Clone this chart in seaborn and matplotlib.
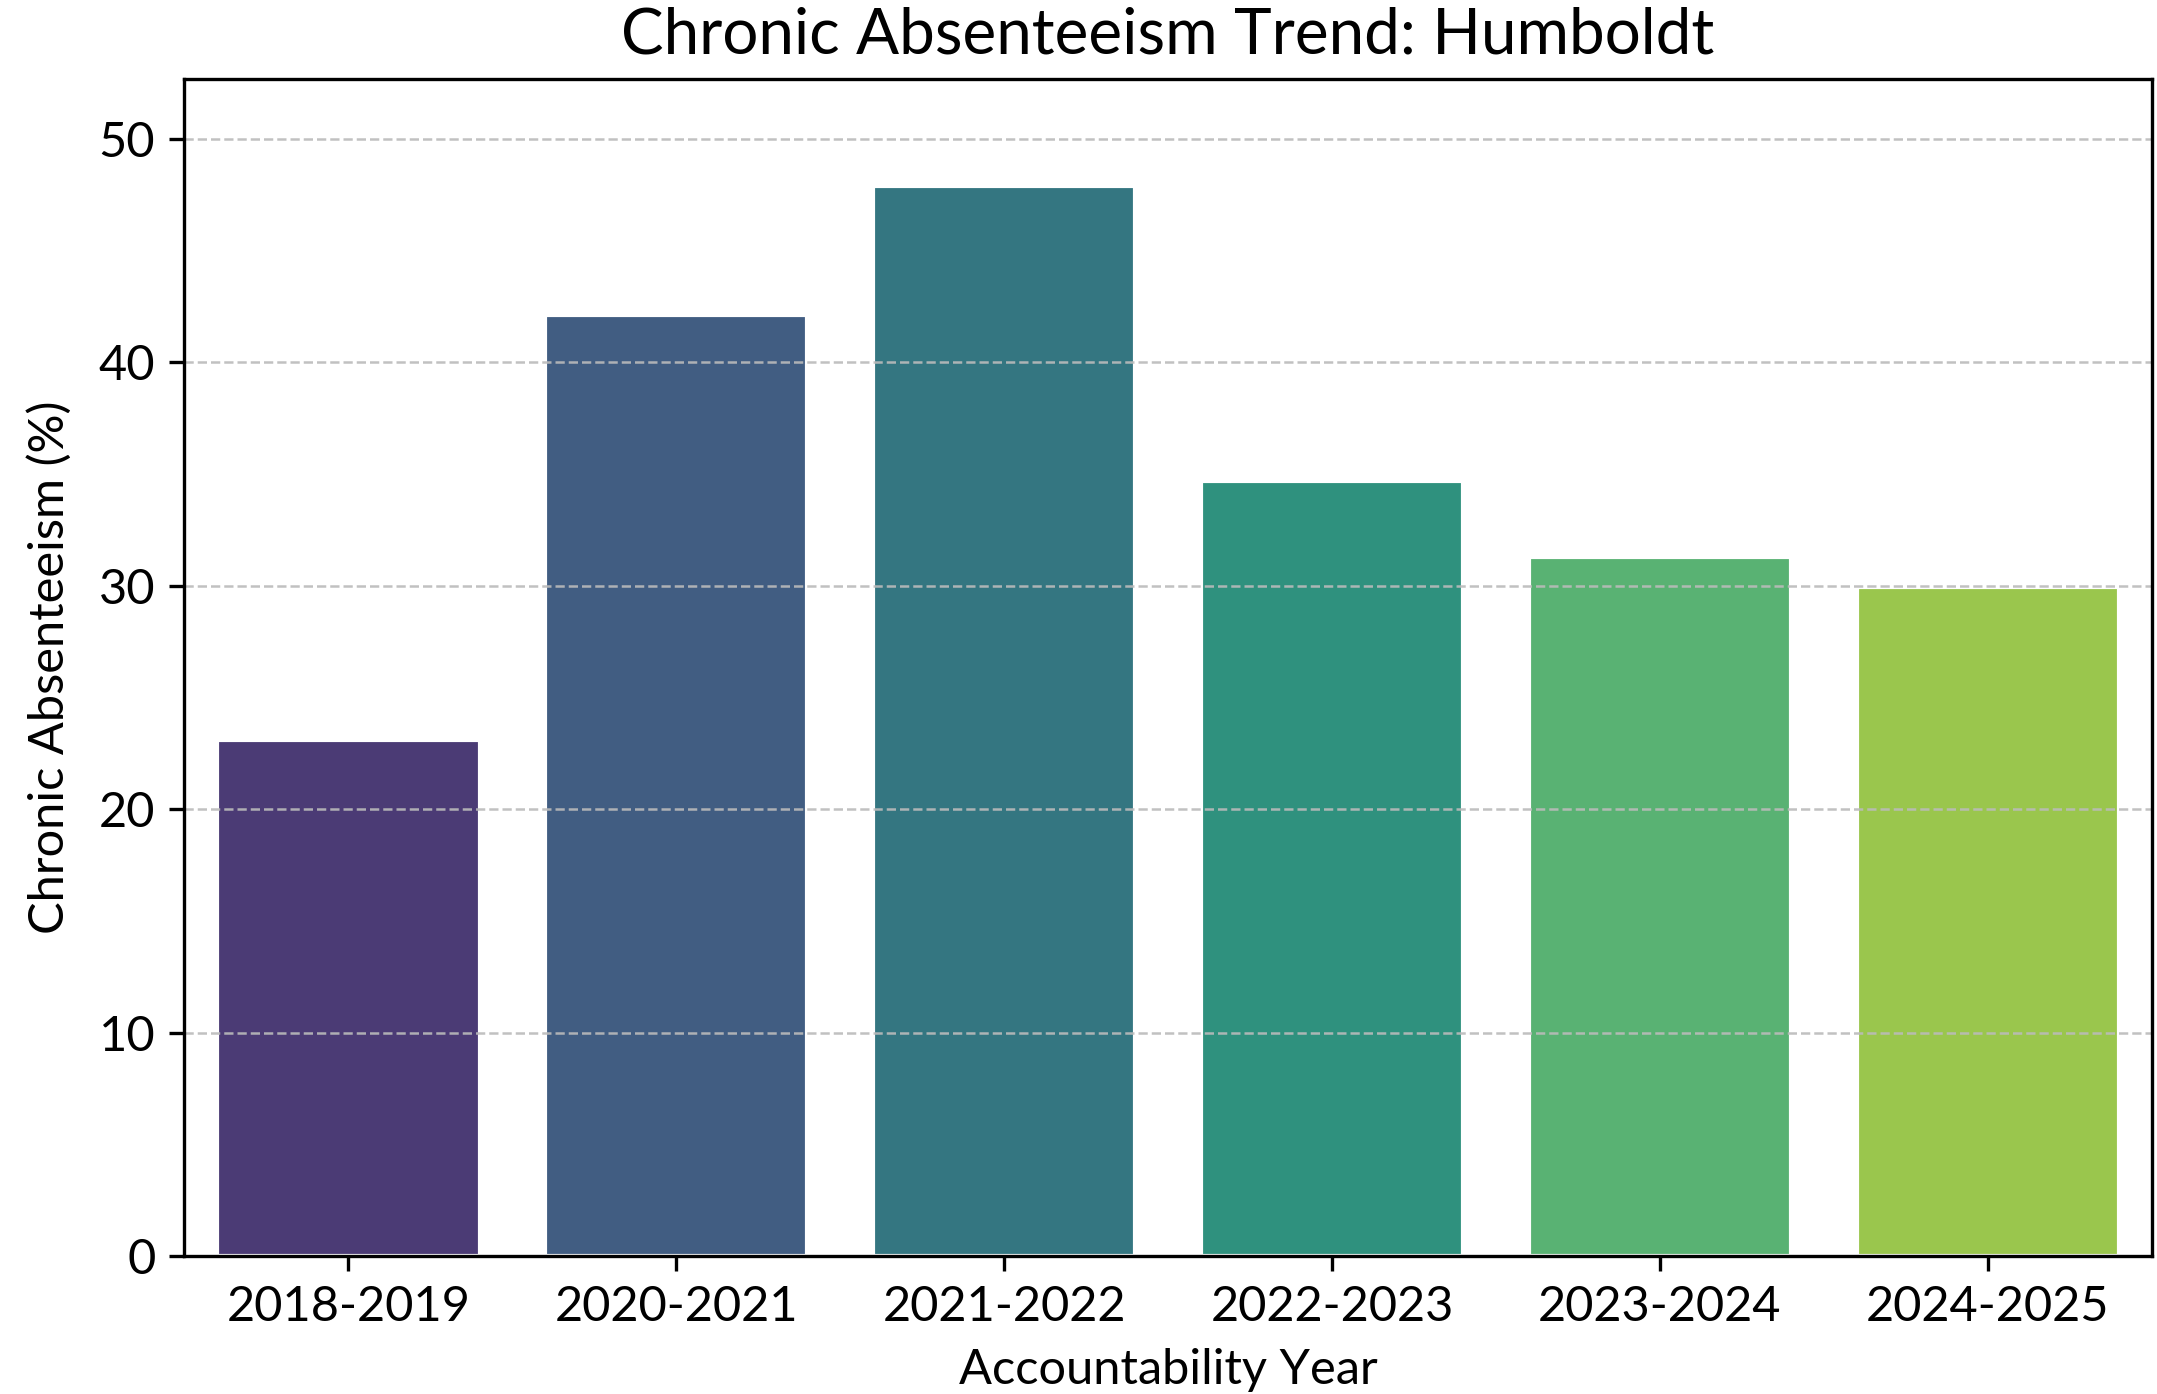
import matplotlib
matplotlib.use("Agg")
import matplotlib.pyplot as plt
import pandas as pd
import seaborn as sns

sns.set_style("ticks")
plt.rcParams["font.family"] = ["Lato", "DejaVu Sans"]

# data
years = ["2018-2019", "2020-2021", "2021-2022", "2022-2023", "2023-2024", "2024-2025"]
absenteeism = [23.1, 42.1, 47.9, 34.7, 31.3, 29.95]

df = pd.DataFrame({"Accountability Year": years, "Chronic Absenteeism (%)": absenteeism})

fig = plt.figure(figsize=(2157 / 300, 1394 / 300), dpi=300)
ax = fig.add_axes([0.0855, 0.099, 0.912, 0.8445])

sns.barplot(data=df, x="Accountability Year", y="Chronic Absenteeism (%)",
            hue="Accountability Year", palette="viridis", legend=False, ax=ax)

ax.set_ylim(0, max(absenteeism) * 1.1)
ax.set_axisbelow(False)
ax.yaxis.grid(True, linestyle="--", color="#bbbbbb", linewidth=0.6, alpha=0.9)
for sp in ax.spines.values():
    sp.set_color("black")
    sp.set_zorder(3)
ax.tick_params(labelsize=11.7, colors="black")
ax.set_title("Chronic Absenteeism Trend: Humboldt", fontsize=15.3, pad=6, color="black")
ax.set_xlabel("Accountability Year", fontsize=11.7, color="black", labelpad=4.5)
ax.set_ylabel("Chronic Absenteeism (%)", fontsize=11.7, color="black", labelpad=6.5)

fig.savefig("out.png", dpi=300)
plt.close()
